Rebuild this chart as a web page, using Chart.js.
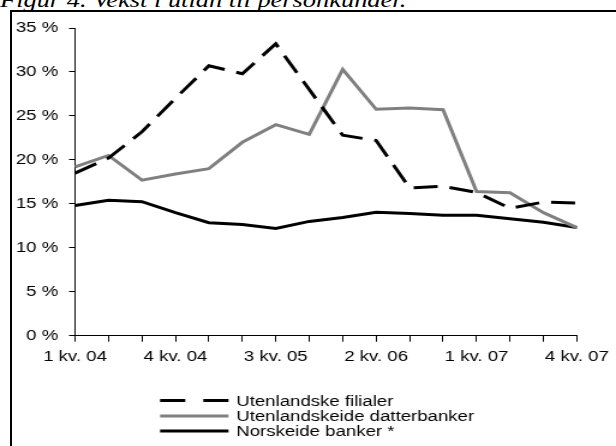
<!DOCTYPE html>
<html lang="no">
  <head>
    <meta charset="UTF-8" />
    <title>Vekst i utlån til personkunder</title>
    <script src="https://cdn.jsdelivr.net/npm/chart.js"></script>
    <style>
      html,
      body {
        margin: 0;
        padding: 0;
        background: #fff;
        overflow: hidden;
      }
      .page {
        position: relative;
        width: 616px;
        height: 446px;
        overflow: hidden;
      }
      .title {
        position: absolute;
        left: 0;
        top: -11px;
        font-family: "Liberation Serif", serif;
        font-style: italic;
        font-size: 22px;
        line-height: 22px;
        white-space: nowrap;
        transform: scaleX(1.2);
        transform-origin: left top;
        color: #000;
      }
      .frame {
        position: absolute;
        left: 10px;
        top: 10px;
        width: 700px;
        height: 500px;
        border-left: 2px solid #000;
        border-top: 2px solid #000;
      }
      #chart {
        position: absolute;
        left: 0;
        top: 0;
      }
    </style>
  </head>
  <body>
    <div class="page">
      <div class="title">Figur 4. Vekst i utlån til personkunder.</div>
      <div class="frame"></div>
      <canvas id="chart" width="513" height="446" style="width: 616px; height: 446px"></canvas>
    </div>

    <script>
      const quarters = [
        "1 kv. 04", "2 kv. 04", "3 kv. 04", "4 kv. 04",
        "1 kv. 05", "2 kv. 05", "3 kv. 05", "4 kv. 05",
        "1 kv. 06", "2 kv. 06", "3 kv. 06", "4 kv. 06",
        "1 kv. 07", "2 kv. 07", "3 kv. 07", "4 kv. 07",
      ];
      const utenlandskeFilialer = [
        18.5, 20.2, 23.2, 27.0, 30.7, 29.8, 33.2, 28.0,
        22.8, 22.2, 16.8, 17.0, 16.3, 14.5, 15.2, 15.1,
      ];
      const utenlandskeidDatter = [
        19.2, 20.5, 17.7, 18.4, 19.0, 22.0, 24.0, 22.9,
        30.3, 25.75, 25.9, 25.7, 16.4, 16.25, 14.0, 12.3,
      ];
      const norskeideBanker = [
        14.8, 15.4, 15.25, 14.0, 12.85, 12.65, 12.2, 13.0,
        13.45, 14.05, 13.9, 13.7, 13.7, 13.3, 12.9, 12.3,
      ];
      const seriesNames = [
        "Utenlandske filialer",
        "Utenlandskeide datterbanker",
        "Norskeide banker *",
      ];

      const font = { family: "'Liberation Sans', Arial, sans-serif", size: 15.5 };

      // legend drawn as three stacked rows under the axis
      const stackedLegend = {
        id: "stackedLegend",
        afterDraw(chart) {
          const ctx = chart.ctx;
          const rows = [400.5, 416, 431];
          ctx.save();
          chart.data.datasets.forEach((ds, i) => {
            const y = rows[i];
            ctx.beginPath();
            ctx.strokeStyle = ds.borderColor;
            ctx.lineWidth = ds.borderWidth;
            ctx.lineCap = "butt";
            ctx.setLineDash(ds.borderDash ? [21, 15] : []);
            ctx.moveTo(133.3, y);
            ctx.lineTo(190.3, y);
            ctx.stroke();
            ctx.setLineDash([]);
            ctx.fillStyle = "#000";
            ctx.font = font.size + "px " + font.family;
            ctx.textBaseline = "middle";
            ctx.textAlign = "left";
            ctx.fillText(ds.label, 196.7, y + 1);
          });
          ctx.restore();
        },
      };

      new Chart(document.getElementById("chart"), {
        type: "line",
        data: {
          labels: quarters,
          datasets: [
            {
              label: seriesNames[0],
              data: utenlandskeFilialer,
              borderColor: "#000",
              borderWidth: 3,
              borderDash: [20, 10],
              borderCapStyle: "butt",
            },
            {
              label: seriesNames[1],
              data: utenlandskeidDatter,
              borderColor: "#808080",
              borderWidth: 3,
            },
            {
              label: seriesNames[2],
              data: norskeideBanker,
              borderColor: "#000",
              borderWidth: 3,
            },
          ],
        },
        options: {
          responsive: false,
          animation: false,
          devicePixelRatio: 1,
          layout: { padding: { top: 28, right: 28.8, left: 0, bottom: 0 } },
          elements: {
            point: { radius: 0 },
            line: { tension: 0, fill: false, borderJoinStyle: "miter" },
          },
          plugins: {
            legend: { display: false },
            tooltip: { enabled: false },
          },
          scales: {
            x: {
              offset: false,
              grid: {
                drawOnChartArea: false,
                tickLength: 6,
                color: "#000",
                offset: false,
              },
              border: { color: "#000", width: 1 },
              ticks: {
                autoSkip: false,
                maxRotation: 0,
                padding: 6,
                color: "#000",
                font: font,
                callback: (v, i) => (i % 3 === 0 ? quarters[i] : ""),
              },
              afterFit: (s) => {
                s.height = 110.3;
              },
            },
            y: {
              min: 0,
              max: 35,
              grid: { drawOnChartArea: false, tickLength: 5, color: "#000" },
              border: { color: "#000", width: 1 },
              ticks: {
                stepSize: 5,
                padding: 9,
                color: "#000",
                font: font,
                callback: (v) => v + " %",
              },
              afterFit: (s) => {
                s.width = 62.5;
              },
            },
          },
        },
        plugins: [stackedLegend],
      });
    </script>
  </body>
</html>
